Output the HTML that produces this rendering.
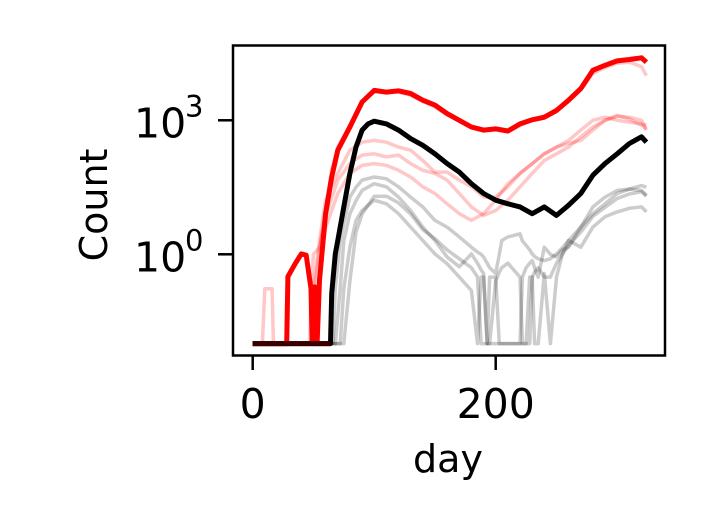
<!DOCTYPE html>
<html><head><meta charset="utf-8"><style>
html,body{margin:0;padding:0;background:#fff;}
svg{display:block;font-family:"DejaVu Sans","Liberation Sans",sans-serif;}
</style></head><body>
<svg id="chart" width="708" height="531" viewBox="0 0 708 531" xmlns="http://www.w3.org/2000/svg">
<rect width="708" height="531" fill="#fff"/>
<g id="series"></g>
<rect x="233" y="45.5" width="432" height="310" fill="none" stroke="#000" stroke-width="2.5"/>
<g id="axes"></g>
<text x="448" y="472" font-size="38" text-anchor="middle">day</text>
<text transform="translate(107,205) rotate(-90)" font-size="38" text-anchor="middle">Count</text>
</svg>
<script>
const xTicks = [0, 200];
const yTicks = [0, 3];
const yTickLabels = ["10", "10"];
const yTickExps = ["0", "3"];
const floorLog = -2;
const days = [0,10,20,28,29,35,40,44,48,49,51,53,55,60,65,70,80,90,100,110,120,130,140,150,160,170,180,190,200,210,220,230,240,250,260,270,280,290,300,310,320,324];
const redMain = [-2,-2,-2,-2,-0.5,-0.21,0.01,-0.02,-0.77,-2,-0.73,-2,-0.58,0.91,1.73,2.33,2.85,3.41,3.67,3.63,3.66,3.60,3.45,3.34,3.15,3.0,2.85,2.78,2.81,2.76,2.92,3.01,3.07,3.22,3.45,3.71,4.12,4.23,4.33,4.36,4.40,4.30];
const redFaint = [-2,-2,-2,-2,-2,-2,-2,-2,-2,-2,-0.7,-0.3,0.1,1.0,1.9,2.4,2.9,3.4,3.64,3.62,3.63,3.56,3.42,3.30,3.12,2.98,2.83,2.76,2.78,2.74,2.88,3.0,3.05,3.25,3.42,3.68,4.05,4.18,4.28,4.30,4.20,4.0];
const gDays = [0,64,65,68,70,75,80,85,90,95,100,110,120,130,140,150,160,170,180,190,200,210,220,230,240,250,260,270,280,290,300,310,320,324];
const blackMain = [-2,-2,-0.88,0.01,0.31,1.06,1.81,2.40,2.78,2.92,2.98,2.92,2.78,2.59,2.44,2.25,2.03,1.84,1.58,1.36,1.21,1.13,1.06,0.91,1.06,0.87,1.10,1.36,1.77,2.03,2.25,2.48,2.63,2.51];
const pDays = [0,8,10,16,17,47,48,50,55,60,70,80,90,100,110,120,130,140,150,160,170,180,190,200,210,220,230,240,250,260,270,280,290,300,310,320,324];
const pinkA = [-2,-2,-2,-2,-2,-2,-2,-0.73,0.31,1.21,1.81,2.33,2.51,2.55,2.51,2.40,2.33,2.10,1.84,1.84,1.66,1.51,1.28,1.28,1.51,1.81,2.03,2.25,2.40,2.48,2.55,2.78,3.0,3.09,3.07,3.0,2.78];
const pinkB = [-2,-2,-0.77,-0.77,-2,-2,-0.73,0.0,0.16,0.85,1.66,2.03,2.22,2.25,2.18,2.22,2.03,1.88,1.81,1.66,1.36,1.06,0.87,0.98,1.21,1.51,1.81,2.10,2.25,2.40,2.63,2.85,3.0,3.11,3.03,2.89,2.81];
const pinkC = [-2,-2,-2,-2,-2,-2,-2,-2,-0.43,0.6,1.36,1.81,1.99,2.03,1.99,1.88,1.73,1.51,1.36,1.13,0.91,0.76,0.91,1.21,1.58,1.81,2.03,2.25,2.40,2.55,2.78,3.0,3.07,3.0,2.96,2.92,2.89];
const hDays = [0,66,68,72,75,80,85,90,100,110,120,130,140,150,160,170,180,185,188,190,193,195,200,203,205,210,220,222,225,228,230,232,235,240,245,250,255,260,270,280,290,300,310,320,324];
const grey1 = [-2,-2,-0.77,0.31,0.7,1.28,1.5,1.66,1.73,1.69,1.51,1.28,1.06,0.76,0.61,0.39,0.16,0.05,0.0,-0.06,-0.2,-0.3,-0.43,0.0,0.31,0.39,0.46,0.3,0.2,0.1,0.01,-0.05,-0.1,-0.14,-0.1,0.01,0.15,0.31,0.61,0.91,1.13,1.36,1.46,1.54,1.50];
const grey2 = [-2,-2,-2,-0.77,0.31,0.91,1.2,1.43,1.58,1.51,1.28,0.98,0.61,0.31,-0.06,-0.28,0.01,-0.2,-0.35,-0.43,-2,-0.51,-0.51,-2,-2,-2,-2,-0.51,-0.3,-0.2,-0.14,-0.3,-0.51,0.16,0.0,-0.06,0.1,0.16,0.61,1.06,1.28,1.43,1.46,1.43,1.32];
const grey3 = [-2,-2,-2,-2,-0.77,0.16,0.76,0.98,1.21,1.13,0.91,0.61,0.31,0.01,-0.21,-0.51,-0.81,-2,-0.51,-0.51,-2,-2,-2,-2,-2,-2,-2,-2,-2,-0.51,-0.51,-2,-2,-0.43,-2,-0.51,0.01,0.31,0.16,0.61,0.84,0.95,1.03,1.06,0.95];
const grey4 = [-2,-2,-2,-2,-2,-0.6,0.5,0.9,1.3,1.3,1.15,0.9,0.55,0.35,0.1,-0.1,-0.3,-0.51,-2,-2,-2,-2,-0.6,-0.4,-0.3,-0.2,-0.51,-2,-2,-2,-0.51,-0.4,-0.3,-0.51,-0.51,-0.2,0.0,0.2,0.5,0.85,1.05,1.25,1.35,1.40,1.30];

const X0 = 252.7, XS = 1.215, Y0 = 254.3, YS = 44.67;
function xs(d){ return X0 + d*XS; }
function ys(l){ return Y0 - l*YS; }
const NS = "http://www.w3.org/2000/svg";
const g = document.getElementById('series');
function line(dArr, vArr, color, op, w, name){
  const p = document.createElementNS(NS, 'path');
  let s = '';
  for (let i = 0; i < dArr.length; i++){ s += (i ? 'L' : 'M') + xs(dArr[i]).toFixed(1) + ',' + ys(Math.max(vArr[i], floorLog)).toFixed(1); }
  p.setAttribute('d', s);
  p.setAttribute('fill', 'none');
  p.setAttribute('stroke', color);
  p.setAttribute('stroke-opacity', op);
  p.setAttribute('stroke-width', w);
  p.setAttribute('stroke-linejoin', 'round');
  
  
  g.appendChild(p);
}
line(hDays, grey1, '#000', 0.2, 3.5, 'grey-series-1');
line(hDays, grey2, '#000', 0.2, 3.5, 'grey-series-2');
line(hDays, grey3, '#000', 0.2, 3.5, 'grey-series-3');
line(hDays, grey4, '#000', 0.2, 3.5, 'grey-series-4');
line(pDays, pinkA, '#f00', 0.22, 3.5, 'pink-series-a');
line(pDays, pinkB, '#f00', 0.22, 3.5, 'pink-series-b');
line(pDays, pinkC, '#f00', 0.22, 3.5, 'pink-series-c');
line(days, redFaint, '#f00', 0.22, 3.5, 'pink-series-d');
line(days, redMain, '#f00', 1, 5, 'red-main-series');
line(gDays, blackMain, '#000', 1, 5, 'black-main-series');
line([0,64], [floorLog, floorLog], '#3a0000', 1, 5, 'floor-overlap');

const ax = document.getElementById('axes');
xTicks.forEach(function(t){
  const l = document.createElementNS(NS, 'line');
  l.setAttribute('x1', xs(t)); l.setAttribute('x2', xs(t));
  l.setAttribute('y1', 356); l.setAttribute('y2', 370);
  l.setAttribute('stroke', '#000'); l.setAttribute('stroke-width', 2.5);
  
  
  ax.appendChild(l);
  const tx = document.createElementNS(NS, 'text');
  tx.setAttribute('x', xs(t)); tx.setAttribute('y', 418);
  tx.setAttribute('font-size', 41); tx.setAttribute('text-anchor', 'middle');
  tx.textContent = String(t);
  
  
  ax.appendChild(tx);
});
yTicks.forEach(function(t, i){
  const l = document.createElementNS(NS, 'line');
  l.setAttribute('x1', 218); l.setAttribute('x2', 232);
  l.setAttribute('y1', ys(t)); l.setAttribute('y2', ys(t));
  l.setAttribute('stroke', '#000'); l.setAttribute('stroke-width', 2.5);
  
  
  ax.appendChild(l);
  const tx = document.createElementNS(NS, 'text');
  tx.setAttribute('x', 134); tx.setAttribute('y', ys(t) + 17);
  tx.setAttribute('font-size', 41);
  tx.textContent = yTickLabels[i];
  
  
  ax.appendChild(tx);
  const sup = document.createElementNS(NS, 'text');
  sup.setAttribute('x', 185); sup.setAttribute('y', ys(t) - 4);
  sup.setAttribute('font-size', 29);
  sup.textContent = yTickExps[i];
  
  
  ax.appendChild(sup);
});
</script>
</body></html>
